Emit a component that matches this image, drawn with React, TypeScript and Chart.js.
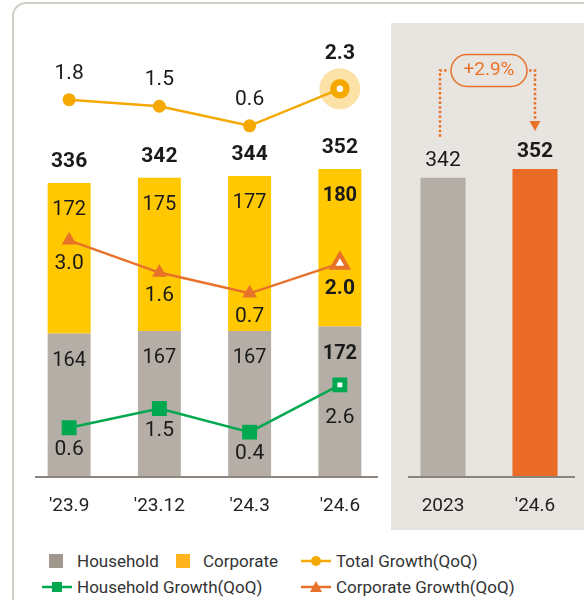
import React, { useEffect, useRef } from 'react';
import { Chart, registerables } from 'chart.js';

Chart.register(...registerables);

// ---------------- data ----------------
const categories = ["'23.9", "'23.12", "'24.3", "'24.6"];
const household = [164, 167, 167, 172];
const corporate = [172, 175, 177, 180];
const totalGrowth = [1.8, 1.5, 0.6, 2.3];
const householdGrowth = [0.6, 1.5, 0.4, 2.6];
const corporateGrowth = [3.0, 1.6, 0.7, 2.0];
const compareCategories = ['2023', "'24.6"];
const compareValues = [342, 352];
const compareChange = '+2.9%';
const legendRow1 = ['Household', 'Corporate', 'Total Growth(QoQ)'];
const legendRow2 = ['Household Growth(QoQ)', 'Corporate Growth(QoQ)'];

// ---------------- styles ----------------
const GRAY = '#b4aea7';
const YELLOW = '#ffc800';
const TOTAL = '#f5a800';
const CORP_LINE = '#e8722a';
const GREEN = '#00a84f';
const ORANGE_BAR = '#ea6b25';
const PANEL_BG = '#e8e4e0';
const AXIS = '#8c857c';
const TEXT = '#1a1a1a';
const NUM_FONT = "'Roboto', sans-serif";
const LEG_FONT = "'Roboto', 'Liberation Sans', sans-serif";

function drawText(ctx: CanvasRenderingContext2D, text: string, x: number, y: number, bold: boolean, size = 21, color = TEXT) {
  ctx.save();
  ctx.font = `${bold ? 'bold ' : ''}${size}px ${NUM_FONT}`;
  ctx.fillStyle = color;
  ctx.textAlign = 'center';
  ctx.textBaseline = 'middle';
  ctx.fillText(text, x, y);
  ctx.restore();
}

function baseline(chart: any, insetL: number, insetR: number) {
  const { ctx, chartArea } = chart;
  const y = chart.scales.y.getPixelForValue(0);
  ctx.save();
  ctx.strokeStyle = AXIS;
  ctx.lineWidth = 2;
  ctx.beginPath();
  ctx.moveTo(chartArea.left + insetL, y);
  ctx.lineTo(chartArea.right - insetR, y);
  ctx.stroke();
  ctx.restore();
}

const leftPlugin = {
  id: 'leftDecor',
  beforeDatasetsDraw(chart: any) {
    const last = categories.length - 1;
    const p = chart.getDatasetMeta(0).data[last];
    const ctx = chart.ctx;
    ctx.save();
    ctx.fillStyle = '#fce2a6';
    ctx.beginPath();
    ctx.arc(p.x, p.y, 20.5, 0, Math.PI * 2);
    ctx.fill();
    ctx.restore();
  },
  afterDatasetsDraw(chart: any) {
    const ctx = chart.ctx;
    const last = categories.length - 1;
    baseline(chart, 11, 7);
    const tMeta = chart.getDatasetMeta(0);
    const cgMeta = chart.getDatasetMeta(1);
    const hgMeta = chart.getDatasetMeta(2);
    const hMeta = chart.getDatasetMeta(3);
    const cMeta = chart.getDatasetMeta(4);
    household.forEach((v, i) => {
      const el = hMeta.data[i];
      drawText(ctx, String(v), el.x, el.y + 27, i === last, 20);
    });
    corporate.forEach((v, i) => {
      const el = cMeta.data[i];
      drawText(ctx, String(v), el.x, el.y + 27, i === last, 20);
      drawText(ctx, String(household[i] + v), el.x, el.y - 21, true, 21);
    });
    totalGrowth.forEach((v, i) => {
      const p = tMeta.data[i];
      drawText(ctx, v.toFixed(1), p.x, p.y - (i === last ? 35 : 26), i === last, 21);
    });
    corporateGrowth.forEach((v, i) => {
      const p = cgMeta.data[i];
      drawText(ctx, v.toFixed(1), p.x, p.y + (i === last ? 25 : 23), i === last, 21);
    });
    householdGrowth.forEach((v, i) => {
      const p = hgMeta.data[i];
      drawText(ctx, v.toFixed(1), p.x, p.y + (i === last ? 33 : 22), false, 21);
    });
  },
};

const rightPlugin = {
  id: 'rightDecor',
  afterDatasetsDraw(chart: any) {
    const ctx = chart.ctx;
    const last = compareValues.length - 1;
    baseline(chart, 11, 6);
    const meta = chart.getDatasetMeta(0);
    compareValues.forEach((v, i) => {
      const el = meta.data[i];
      drawText(ctx, String(v), el.x, el.y - 17, i === last, 21);
    });
    const b0 = meta.data[0];
    const b1 = meta.data[last];
    const cx = (b0.x + b1.x) / 2;
    const cy = chart.chartArea.top + 47.5;
    const w = 76;
    const h = 32;
    ctx.save();
    ctx.strokeStyle = CORP_LINE;
    ctx.lineWidth = 1.5;
    ctx.beginPath();
    ctx.roundRect(cx - w / 2, cy - h / 2, w, h, h / 2);
    ctx.stroke();
    drawText(ctx, compareChange, cx, cy, false, 19, CORP_LINE);
    ctx.strokeStyle = CORP_LINE;
    ctx.lineWidth = 2.5;
    ctx.setLineDash([2.5, 2.2]);
    const xl = b0.x - 3;
    const xr = b1.x;
    ctx.beginPath();
    ctx.moveTo(xl, b0.y - 41);
    ctx.lineTo(xl, cy);
    ctx.lineTo(cx - w / 2 - 2, cy);
    ctx.stroke();
    const tipY = b1.y - 38;
    ctx.beginPath();
    ctx.moveTo(cx + w / 2 + 2, cy);
    ctx.lineTo(xr, cy);
    ctx.lineTo(xr, tipY - 9);
    ctx.stroke();
    ctx.setLineDash([]);
    ctx.fillStyle = CORP_LINE;
    ctx.beginPath();
    ctx.moveTo(xr - 5.5, tipY - 10);
    ctx.lineTo(xr + 5.5, tipY - 10);
    ctx.lineTo(xr, tipY);
    ctx.closePath();
    ctx.fill();
    ctx.restore();
  },
};

const xScale = {
  type: 'category' as const,
  grid: { display: false, drawTicks: false, tickLength: 0 },
  border: { display: false },
  ticks: { color: '#222', font: { size: 19, family: NUM_FONT }, padding: 18 },
  afterFit: (s: any) => {
    s.height = 53;
  },
};

function LegendMarker({ kind }: { kind: string }) {
  if (kind === 'Household' || kind === 'Corporate') {
    return (
      <div style={{ width: 14, height: 14, background: kind === 'Household' ? '#a0978c' : '#ffb41e' }} />
    );
  }
  const color = kind.startsWith('Total') ? TOTAL : kind.startsWith('Household') ? GREEN : CORP_LINE;
  let mark: React.ReactNode = null;
  if (kind.startsWith('Total')) mark = <circle cx={15} cy={7} r={5} fill={color} />;
  else if (kind.startsWith('Household')) mark = <rect x={10} y={2} width={10} height={10} fill={color} />;
  else mark = <polygon points="15,1 21,12 9,12" fill={color} />;
  return (
    <svg width={30} height={14} style={{ display: 'block' }}>
      <line x1={0} y1={7} x2={30} y2={7} stroke={color} strokeWidth={2.5} />
      {mark}
    </svg>
  );
}

function LegendItem({ label, left, top, textLeft }: { label: string; left: number; top: number; textLeft: number }) {
  return (
    <>
      <div style={{ position: 'absolute', left, top: top - 7 }}>
        <LegendMarker kind={label} />
      </div>
      <div
        style={{
          position: 'absolute',
          left: textLeft,
          top: top - 11,
          height: 22,
          lineHeight: '22px',
          fontFamily: LEG_FONT,
          fontSize: 17,
          color: '#333',
          whiteSpace: 'nowrap',
        }}
      >
        {label}
      </div>
    </>
  );
}

export default function App() {
  const leftRef = useRef<HTMLCanvasElement>(null);
  const rightRef = useRef<HTMLCanvasElement>(null);

  useEffect(() => {
    const last = categories.length - 1;
    const left = new Chart(leftRef.current!, {
      type: 'bar',
      data: {
        labels: categories,
        datasets: [
          {
            type: 'line',
            label: 'Total Growth(QoQ)',
            data: totalGrowth,
            yAxisID: 'yT',
            borderColor: TOTAL,
            backgroundColor: TOTAL,
            borderWidth: 2.5,
            pointStyle: 'circle',
            pointRadius: 6.5,
            pointBorderWidth: (c: any) => (c.dataIndex === last ? 6.5 : 0),
            pointBackgroundColor: (c: any) => (c.dataIndex === last ? '#ffffff' : TOTAL),
            pointBorderColor: TOTAL,
            order: 0,
          } as any,
          {
            type: 'line',
            label: 'Corporate Growth(QoQ)',
            data: corporateGrowth,
            yAxisID: 'yC',
            borderColor: CORP_LINE,
            backgroundColor: CORP_LINE,
            borderWidth: 2.5,
            pointStyle: 'triangle',
            pointRadius: (c: any) => (c.dataIndex === last ? 9 : 8.5),
            pointBorderWidth: (c: any) => (c.dataIndex === last ? 4 : 0),
            pointBackgroundColor: (c: any) => (c.dataIndex === last ? '#ffffff' : CORP_LINE),
            pointBorderColor: CORP_LINE,
            order: 1,
          } as any,
          {
            type: 'line',
            label: 'Household Growth(QoQ)',
            data: householdGrowth,
            yAxisID: 'yH',
            borderColor: GREEN,
            backgroundColor: GREEN,
            borderWidth: 2.5,
            pointStyle: 'rect',
            pointRadius: 7,
            pointBorderWidth: 5,
            pointBackgroundColor: (c: any) => (c.dataIndex === last ? '#ffffff' : GREEN),
            pointBorderColor: GREEN,
            order: 2,
          } as any,
          {
            type: 'bar',
            label: 'Household',
            data: household,
            yAxisID: 'y',
            stack: 's',
            backgroundColor: GRAY,
            barPercentage: 0.476,
            categoryPercentage: 1,
            order: 10,
          },
          {
            type: 'bar',
            label: 'Corporate',
            data: corporate,
            yAxisID: 'y',
            stack: 's',
            backgroundColor: YELLOW,
            barPercentage: 0.476,
            categoryPercentage: 1,
            order: 10,
          },
        ],
      },
      options: {
        responsive: false,
        animation: false,
        layout: { padding: { top: 23, left: 24, right: 15, bottom: 0 } },
        plugins: { legend: { display: false }, tooltip: { enabled: false } },
        scales: {
          x: xScale as any,
          y: { display: false, stacked: true, min: 0, max: 519 },
          yT: { display: false, min: -15.56, max: 5.33 },
          yC: { display: false, min: -7.27, max: 12.43 },
          yH: { display: false, min: -1.69, max: 19.44 },
        },
      },
      plugins: [leftPlugin],
    });

    const right = new Chart(rightRef.current!, {
      type: 'bar',
      data: {
        labels: compareCategories,
        datasets: [
          {
            label: 'Total',
            data: compareValues,
            backgroundColor: [GRAY, ORANGE_BAR],
            barPercentage: 0.49,
            categoryPercentage: 1,
          },
        ],
      },
      options: {
        responsive: false,
        animation: false,
        layout: { padding: { top: 23, left: 6, right: 3, bottom: 0 } },
        plugins: { legend: { display: false }, tooltip: { enabled: false } },
        scales: {
          x: xScale as any,
          y: { display: false, min: 0, max: 519 },
        },
      },
      plugins: [rightPlugin],
    });

    return () => {
      left.destroy();
      right.destroy();
    };
  }, []);

  return (
    <div style={{ position: 'absolute', left: 0, top: 0, width: 584, height: 600, overflow: 'hidden', background: '#fff' }}>
      <div
        style={{
          position: 'absolute',
          left: 12,
          top: 2,
          width: 640,
          height: 640,
          borderTop: '2px solid #d2cdc6',
          borderLeft: '2px solid #d2cdc6',
          borderTopLeftRadius: 14,
          boxSizing: 'border-box',
        }}
      />
      <div style={{ position: 'absolute', left: 391, top: 23, width: 193, height: 507, background: PANEL_BG }} />
      <canvas ref={leftRef} width={400} height={530} style={{ position: 'absolute', left: 0, top: 0 }} />
      <canvas ref={rightRef} width={193} height={530} style={{ position: 'absolute', left: 391, top: 0 }} />
      <LegendItem label={legendRow1[0]} left={49} top={561} textLeft={77} />
      <LegendItem label={legendRow1[1]} left={176} top={561} textLeft={203} />
      <LegendItem label={legendRow1[2]} left={301} top={561} textLeft={336} />
      <LegendItem label={legendRow2[0]} left={42} top={587} textLeft={77} />
      <LegendItem label={legendRow2[1]} left={301} top={587} textLeft={336} />
    </div>
  );
}
